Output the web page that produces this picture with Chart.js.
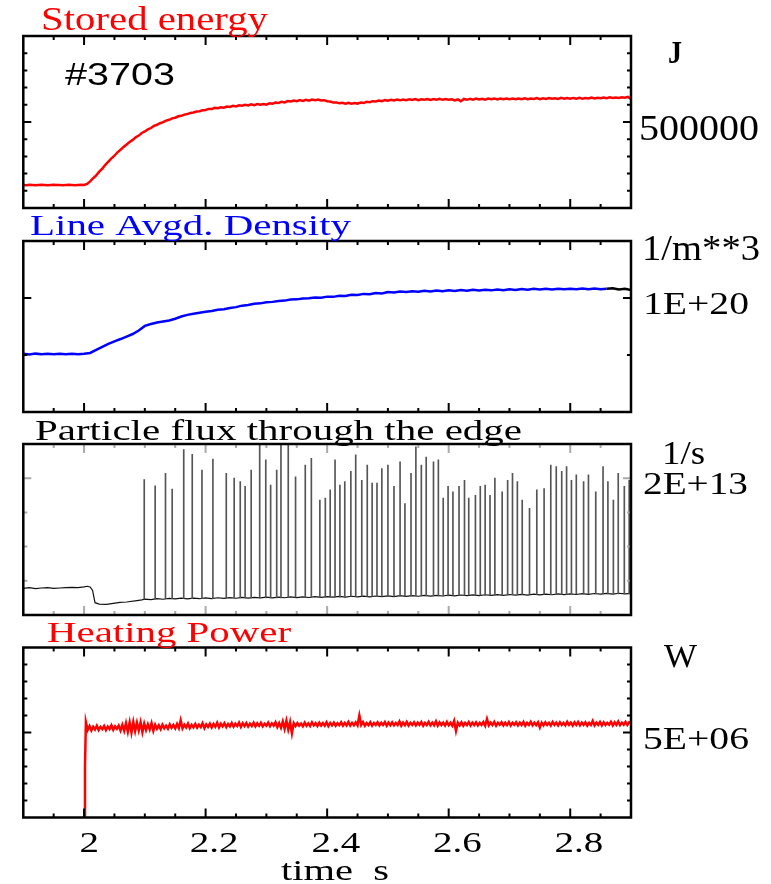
<!DOCTYPE html>
<html>
<head>
<meta charset="utf-8">
<script src="https://cdn.jsdelivr.net/npm/chart.js@4.4.1/dist/chart.umd.min.js"></script>
<style>
  html, body { margin: 0; padding: 0; background: #fff; }
  #wrap { position: relative; width: 771px; height: 884px; overflow: hidden; }
  #wrap canvas { position: absolute; left: 0; top: 0; }
</style>
</head>
<body>
<div id="wrap">
  <canvas id="energy-chart" width="771" height="884"></canvas>
  <canvas id="density-chart" width="771" height="884"></canvas>
  <canvas id="flux-chart" width="771" height="884"></canvas>
  <canvas id="power-chart" width="771" height="884"></canvas>
</div>
<script>
// shot #3703, time window
const timeRange = [1.9, 2.9];
const timeTicks = [2, 2.2, 2.4, 2.6, 2.8];
const timeTickLabels = ["2", "2.2", "2.4", "2.6", "2.8"];

// Stored energy, kJ, sampled every 5 ms from 1.900 s
const energyT0 = 1.9;
const energyDt = 0.005;
const energyKJ = [
  134, 133, 135, 134, 133, 134, 135, 134, 133, 134, 135, 134, 134, 133, 134, 135, 134, 133, 134, 135, 134,
  140, 155, 173, 190, 211, 229, 251, 270, 289, 304, 324, 339, 355, 369, 384, 396, 411, 421, 436, 445,
  457, 465, 477, 484, 493, 499, 508, 513, 521, 525, 533, 536, 543, 546, 553, 555, 561, 563, 568, 570,
  576, 575, 582, 580, 586, 583, 590, 587, 594, 590, 597, 595, 600, 596, 603, 598, 604, 600, 605, 601,
  609, 606, 613, 611, 618, 614, 622, 619, 625, 621, 627, 622, 629, 624, 630, 626, 631, 625, 627, 621,
  619, 613, 614, 609, 612, 607, 611, 606, 610, 607, 613, 610, 617, 615, 621, 619, 625, 621, 627, 624,
  629, 625, 630, 626, 631, 627, 632, 628, 633, 627, 632, 629, 634, 628, 633, 630, 635, 629, 634, 630,
  632, 626, 631, 621, 634, 629, 635, 630, 636, 631, 635, 630, 636, 632, 637, 631, 636, 632, 637, 633,
  636, 632, 637, 633, 638, 632, 637, 634, 639, 633, 638, 634, 639, 635, 638, 634, 640, 635, 639, 635,
  640, 636, 641, 636, 640, 637, 642, 637, 641, 638, 642, 638, 643, 639, 642, 640, 644, 641, 646, 634
];

// Line averaged density, 1E+20 m^-3, sampled every 10 ms from 1.90 s
const densityT0 = 1.9;
const densityDt = 0.01;
const density = [
  0.510, 0.505, 0.512, 0.507, 0.510, 0.506, 0.511, 0.507, 0.510, 0.506, 0.510,
  0.518, 0.545, 0.572, 0.598, 0.620, 0.640, 0.662, 0.684, 0.715, 0.755,
  0.772, 0.785, 0.793, 0.802, 0.818, 0.838, 0.852, 0.862, 0.870, 0.879,
  0.886, 0.896, 0.902, 0.912, 0.920, 0.933, 0.938, 0.950, 0.953, 0.962,
  0.966, 0.974, 0.977, 0.987, 0.988, 0.996, 0.997, 1.004, 1.003, 1.012,
  1.010, 1.020, 1.017, 1.028, 1.026, 1.036, 1.033, 1.043, 1.040, 1.052,
  1.049, 1.057, 1.053, 1.060, 1.055, 1.063, 1.058, 1.066, 1.060, 1.068,
  1.062, 1.070, 1.064, 1.072, 1.066, 1.073, 1.067, 1.075, 1.069, 1.076,
  1.070, 1.078, 1.072, 1.080, 1.074, 1.081, 1.075, 1.082, 1.076, 1.082,
  1.076, 1.083, 1.077, 1.083, 1.077, 1.082, 1.085, 1.074, 1.080, 1.070
];
const densityEndTime = 2.857; // trace turns black after this

// Particle flux baseline [t (s), 1E+13 1/s]
const fluxBaseline = [
  [1.900, 0.390], [1.910, 0.400], [1.920, 0.385], [1.930, 0.395], [1.940, 0.400],
  [1.950, 0.390], [1.960, 0.395], [1.970, 0.400], [1.980, 0.405], [1.990, 0.400],
  [2.000, 0.410], [2.005, 0.420], [2.010, 0.410], [2.014, 0.360], [2.018, 0.180],
  [2.025, 0.160], [2.037, 0.155], [2.048, 0.170], [2.059, 0.185], [2.070, 0.190],
  [2.087, 0.210], [2.095, 0.220],
  [2.10, 0.232], [2.11, 0.225], [2.12, 0.240], [2.13, 0.230], [2.14, 0.243], [2.15, 0.235],
  [2.16, 0.248], [2.17, 0.236], [2.18, 0.246], [2.19, 0.238], [2.20, 0.250], [2.21, 0.240],
  [2.22, 0.252], [2.23, 0.243], [2.24, 0.255], [2.25, 0.245], [2.26, 0.257], [2.27, 0.246],
  [2.28, 0.258], [2.29, 0.249], [2.30, 0.260], [2.31, 0.250], [2.32, 0.262], [2.33, 0.252],
  [2.34, 0.265], [2.35, 0.255], [2.36, 0.266], [2.37, 0.256], [2.38, 0.268], [2.39, 0.258],
  [2.40, 0.270], [2.41, 0.260], [2.42, 0.272], [2.43, 0.262], [2.44, 0.274], [2.45, 0.264],
  [2.46, 0.276], [2.47, 0.266], [2.48, 0.278], [2.49, 0.268], [2.50, 0.280], [2.51, 0.270],
  [2.52, 0.282], [2.53, 0.272], [2.54, 0.284], [2.55, 0.274], [2.56, 0.286], [2.57, 0.276],
  [2.58, 0.288], [2.59, 0.278], [2.60, 0.290], [2.61, 0.280], [2.62, 0.292], [2.63, 0.282],
  [2.64, 0.294], [2.65, 0.284], [2.66, 0.296], [2.67, 0.286], [2.68, 0.298], [2.69, 0.288],
  [2.70, 0.300], [2.71, 0.290], [2.72, 0.302], [2.73, 0.292], [2.74, 0.304], [2.75, 0.294],
  [2.76, 0.306], [2.77, 0.296], [2.78, 0.308], [2.79, 0.298], [2.80, 0.310], [2.81, 0.300],
  [2.82, 0.312], [2.83, 0.302], [2.84, 0.314], [2.85, 0.304], [2.86, 0.316], [2.87, 0.306],
  [2.88, 0.318], [2.89, 0.308], [2.90, 0.316]
];

// ELM bursts [t (s), base, peak] in 1E+13 1/s
const elmBursts = [
  [2.099, 0.23, 1.98], [2.117, 0.23, 1.89], [2.134, 0.24, 2.07], [2.145, 0.24, 1.84],
  [2.164, 0.24, 2.42], [2.178, 0.24, 2.35], [2.194, 0.24, 2.12], [2.212, 0.24, 2.28],
  [2.234, 0.25, 2.07], [2.247, 0.25, 2.00], [2.257, 0.25, 1.95], [2.265, 0.25, 1.88],
  [2.275, 0.25, 2.12], [2.289, 0.25, 2.49], [2.299, 0.25, 2.27], [2.307, 0.25, 1.90],
  [2.317, 0.25, 2.12], [2.324, 0.25, 2.60], [2.336, 0.26, 2.55], [2.348, 0.26, 2.02],
  [2.364, 0.26, 2.19], [2.374, 0.26, 2.29], [2.388, 0.26, 1.68], [2.397, 0.26, 1.71],
  [2.405, 0.26, 1.83], [2.413, 0.26, 2.27], [2.421, 0.26, 1.90], [2.429, 0.26, 1.95],
  [2.439, 0.27, 2.10], [2.447, 0.27, 2.34], [2.457, 0.27, 1.97], [2.466, 0.27, 2.19],
  [2.474, 0.27, 1.93], [2.482, 0.27, 1.93], [2.490, 0.27, 2.14], [2.500, 0.27, 2.19],
  [2.510, 0.27, 1.88], [2.520, 0.28, 2.24], [2.528, 0.28, 1.63], [2.538, 0.28, 2.07],
  [2.546, 0.28, 2.46], [2.555, 0.28, 2.19], [2.563, 0.28, 2.31], [2.575, 0.28, 2.24],
  [2.583, 0.28, 2.27], [2.591, 0.28, 1.71], [2.599, 0.28, 1.88], [2.607, 0.29, 1.80],
  [2.617, 0.29, 1.88], [2.626, 0.29, 1.97], [2.633, 0.29, 1.71], [2.644, 0.29, 1.75],
  [2.652, 0.29, 1.88], [2.660, 0.29, 1.90], [2.668, 0.29, 1.75], [2.676, 0.29, 2.00],
  [2.688, 0.29, 1.80], [2.697, 0.29, 1.97], [2.705, 0.30, 2.07], [2.713, 0.30, 1.95],
  [2.721, 0.30, 1.68], [2.733, 0.30, 1.56], [2.745, 0.30, 1.83], [2.757, 0.30, 1.85],
  [2.768, 0.30, 2.19], [2.777, 0.30, 2.17], [2.786, 0.30, 2.10], [2.794, 0.30, 2.17],
  [2.802, 0.30, 1.97], [2.810, 0.31, 2.05], [2.822, 0.31, 1.95], [2.830, 0.31, 2.05],
  [2.842, 0.31, 1.80], [2.854, 0.31, 2.17], [2.862, 0.31, 1.95], [2.871, 0.31, 1.68],
  [2.879, 0.31, 2.07], [2.889, 0.31, 1.88], [2.897, 0.31, 1.97]
];

// Heating power, MW: switch-on edge, then sampled every 3 ms from 2.003 s
const powerRise = [[2.000, 0], [2.0015, 3.0]];
const powerT0 = 2.003;
const powerDt = 0.003;
const powerMW = [
  5.62, 5.15, 5.38, 5.12, 5.34, 5.18, 5.40, 5.15, 5.33, 5.20,
  5.38, 5.14, 5.35, 5.20, 5.42, 5.16, 5.36, 5.22, 5.40, 5.12,
  5.45, 5.10, 5.55, 5.05, 5.60, 5.00, 5.62, 5.08, 5.58, 5.12,
  5.60, 5.02, 5.52, 5.15, 5.48, 5.18, 5.55, 5.10, 5.45, 5.22,
  5.42, 5.20, 5.46, 5.25, 5.40, 5.22, 5.48, 5.28, 5.44, 5.24,
  5.50, 5.26, 5.72, 5.25, 5.46, 5.30, 5.52, 5.26, 5.45, 5.30,
  5.50, 5.28, 5.46, 5.32, 5.55, 5.26, 5.48, 5.33, 5.52, 5.30,
  5.50, 5.34, 5.58, 5.30, 5.52, 5.36, 5.55, 5.32, 5.50, 5.36,
  5.56, 5.34, 5.52, 5.38, 5.58, 5.33, 5.54, 5.38, 5.56, 5.35,
  5.52, 5.38, 5.58, 5.36, 5.54, 5.40, 5.57, 5.36, 5.52, 5.40,
  5.58, 5.37, 5.54, 5.40, 5.60, 5.32, 5.55, 5.28, 5.65, 5.22,
  5.70, 5.18, 5.62, 4.95, 5.55, 5.38, 5.56, 5.40, 5.53, 5.37,
  5.58, 5.40, 5.54, 5.38, 5.60, 5.42, 5.55, 5.38, 5.58, 5.41,
  5.55, 5.40, 5.60, 5.38, 5.56, 5.42, 5.58, 5.40, 5.55, 5.43,
  5.60, 5.40, 5.56, 5.42, 5.62, 5.41, 5.57, 5.43, 5.60, 5.42,
  6.00, 5.45, 5.62, 5.40, 5.56, 5.43, 5.60, 5.40, 5.56, 5.44,
  5.60, 5.42, 5.57, 5.45, 5.62, 5.40, 5.58, 5.43, 5.60, 5.42,
  5.56, 5.44, 5.65, 5.40, 5.58, 5.43, 5.62, 5.41, 5.57, 5.44,
  5.60, 5.42, 5.58, 5.45, 5.62, 5.40, 5.57, 5.44, 5.63, 5.42,
  5.58, 5.43, 5.66, 5.40, 5.60, 5.44, 5.58, 5.41, 5.62, 5.43,
  5.57, 5.40, 5.68, 5.10, 5.58, 5.42, 5.60, 5.40, 5.57, 5.44,
  5.62, 5.41, 5.58, 5.44, 5.60, 5.42, 5.57, 5.45, 5.62, 5.40,
  5.80, 5.42, 5.58, 5.44, 5.62, 5.40, 5.57, 5.45, 5.60, 5.42,
  5.58, 5.44, 5.62, 5.41, 5.57, 5.45, 5.60, 5.42, 5.58, 5.44,
  5.62, 5.40, 5.57, 5.45, 5.63, 5.42, 5.58, 5.44, 5.60, 5.30,
  5.58, 5.42, 5.60, 5.44, 5.57, 5.41, 5.62, 5.45, 5.58, 5.42,
  5.60, 5.44, 5.57, 5.42, 5.63, 5.45, 5.58, 5.41, 5.60, 5.44,
  5.62, 5.42, 5.58, 5.45, 5.60, 5.41, 5.57, 5.44, 5.68, 5.42,
  5.58, 5.45, 5.62, 5.42, 5.60, 5.44, 5.57, 5.46, 5.63, 5.42,
  5.60, 5.45, 5.65, 5.43, 5.58, 5.46, 5.62, 5.44, 5.60, 5.55
];

const SERIF = '"Liberation Serif", "Times New Roman", serif';
const SANS = '"Liberation Sans", Arial, sans-serif';

// draw text squeezed/stretched to a given width (the original plot has wide glyphs)
function drawText(ctx, t) {
  ctx.save();
  ctx.font = `${t.weight || "normal"} ${t.size}px ${t.family || SERIF}`;
  const natural = ctx.measureText(t.text).width;
  ctx.translate(t.x, t.y);
  ctx.scale((t.width || natural) / natural, 1);
  ctx.fillStyle = t.color || "#000";
  ctx.textAlign = "left";
  ctx.textBaseline = "alphabetic";
  ctx.fillText(t.text, 0, 0);
  ctx.restore();
}

// frame, inward ticks and labels for one panel
const framePlugin = {
  id: "frame",
  afterDraw(chart, args, opts) {
    const { ctx, chartArea: a } = chart;
    const xs = chart.scales.x;
    const ys = chart.scales.y;
    ctx.save();
    ctx.strokeStyle = opts.tickColor;
    ctx.lineWidth = 2;
    ctx.beginPath();
    // time ticks every 0.05 s, longer on 2.0, 2.2, ...
    for (let i = 1; i < 20; i++) {
      const px = xs.getPixelForValue(1.9 + i * 0.05);
      const len = i % 4 === 2 ? 9 : 4;
      ctx.moveTo(px, a.top); ctx.lineTo(px, a.top + len);
      ctx.moveTo(px, a.bottom); ctx.lineTo(px, a.bottom - len);
    }
    const n = Math.round(opts.yMax / opts.yStep);
    for (let k = 1; k < n; k++) {
      const v = k * opts.yStep;
      const py = ys.getPixelForValue(v);
      const len = Math.abs(v - opts.yMajor) < 1e-9 ? 8 : 4;
      ctx.moveTo(a.left, py); ctx.lineTo(a.left + len, py);
      ctx.moveTo(a.right, py); ctx.lineTo(a.right - len, py);
    }
    ctx.stroke();

    ctx.strokeStyle = "#000";
    ctx.lineWidth = 2.5;
    ctx.strokeRect(a.left, a.top, a.right - a.left, a.bottom - a.top);
    ctx.restore();

    opts.texts.forEach((t) => drawText(ctx, t));

    if (opts.timeLabels) {
      ctx.save();
      ctx.font = `30px ${SERIF}`;
      timeTicks.forEach((v, i) => {
        const w = ctx.measureText(timeTickLabels[i]).width;
        const px = xs.getPixelForValue(v);
        drawText(ctx, { text: timeTickLabels[i], x: px - w / 2 + 3, y: 852, size: 30, width: w * 1.3 });
      });
      ctx.restore();
      drawText(ctx, { text: "time  s", x: 281, y: 880, size: 29, width: 108 });
    }
  },
};

const toXY = (arr) => arr.map((p) => ({ x: p[0], y: p[1] }));
const sampled = (t0, dt, vals) => vals.map((v, i) => ({ x: t0 + i * dt, y: v }));

function makePanel(id, frame, datasets) {
  const ctx = document.getElementById(id).getContext("2d");
  return new Chart(ctx, {
    type: "line",
    data: { datasets: datasets },
    options: {
      responsive: false,
      animation: false,
      devicePixelRatio: 1,
      layout: {
        padding: { left: 23.3, right: 771 - 631, top: frame.top, bottom: 884 - frame.bottom },
      },
      elements: { point: { radius: 0 }, line: { tension: 0 } },
      scales: {
        x: { type: "linear", min: timeRange[0], max: timeRange[1], display: false, offset: false },
        y: { type: "linear", min: 0, max: frame.yMax, display: false },
      },
      plugins: {
        legend: { display: false },
        tooltip: { enabled: false },
        frame: frame,
      },
    },
    plugins: [framePlugin],
  });
}

// Stored energy
makePanel(
  "energy-chart",
  {
    top: 36, bottom: 208, yMax: 1000, yStep: 100, yMajor: 500, tickColor: "#000",
    texts: [
      { text: "Stored energy", x: 41, y: 30, size: 33, width: 227, color: "#ff0000" },
      { text: "#3703", x: 65, y: 85, size: 31, width: 110, family: SANS },
      { text: "J", x: 668, y: 63, size: 31, width: 14, weight: "bold" },
      { text: "500000", x: 639, y: 140, size: 35, width: 120 },
    ],
  },
  [{ data: sampled(energyT0, energyDt, energyKJ), borderColor: "#ff0000", borderWidth: 2.5 }]
);

// Line averaged density
makePanel(
  "density-chart",
  {
    top: 241, bottom: 412, yMax: 1.5, yStep: 0.5, yMajor: 1, tickColor: "#000",
    texts: [
      { text: "Line Avgd. Density", x: 30, y: 235, size: 30, width: 321, color: "#0000ff" },
      { text: "1/m**3", x: 642, y: 260, size: 35, width: 118 },
      { text: "1E+20", x: 643, y: 314, size: 32, width: 106 },
    ],
  },
  [{
    data: sampled(densityT0, densityDt, density),
    borderColor: "#0000ff",
    borderWidth: 2.5,
    segment: { borderColor: (c) => (c.p0.parsed.x >= densityEndTime ? "#000" : "#0000ff") },
  }]
);

// Particle flux through the edge
makePanel(
  "flux-chart",
  {
    top: 444, bottom: 615, yMax: 2.5, yStep: 0.5, yMajor: 2, tickColor: "#aaaaaa",
    texts: [
      { text: "Particle flux through the edge", x: 35, y: 440, size: 29, width: 487 },
      { text: "1/s", x: 662, y: 464, size: 33, width: 43 },
      { text: "2E+13", x: 643, y: 494, size: 32, width: 105 },
    ],
  },
  [
    {
      type: "bar",
      data: elmBursts.map((b) => ({ x: b[0], y: [b[1], b[2]] })),
      backgroundColor: "#555555",
      borderWidth: 0,
      barThickness: 1,
      order: 1,
    },
    { data: toXY(fluxBaseline), borderColor: "#111", borderWidth: 1.2, order: 2 },
  ]
);

// Heating power
makePanel(
  "power-chart",
  {
    top: 647.5, bottom: 817.5, yMax: 10, yStep: 1, yMajor: 5, tickColor: "#000", timeLabels: true,
    texts: [
      { text: "Heating Power", x: 47, y: 642, size: 29, width: 244, color: "#ff0000" },
      { text: "W", x: 664, y: 667, size: 33, width: 33 },
      { text: "5E+06", x: 643, y: 749, size: 32, width: 106 },
    ],
  },
  [{
    data: toXY(powerRise).concat(sampled(powerT0, powerDt, powerMW)),
    borderColor: "#ff0000",
    borderWidth: 2.5,
  }]
);
</script>
</body>
</html>
